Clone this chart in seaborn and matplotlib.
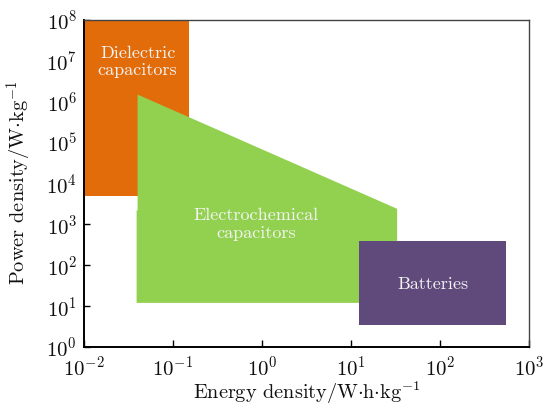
import matplotlib
matplotlib.use("Agg")
import matplotlib.pyplot as plt
import seaborn as sns
import pandas as pd

# Regions of the Ragone plot (energy density in W·h/kg, power density in W/kg)
dielectric_energy = [0.01, 0.15, 0.15, 0.01]
dielectric_power = [5e3, 5e3, 1e8, 1e8]

electrochem_energy = [0.039, 33, 33, 0.04, 0.04, 0.039]
electrochem_power = [12, 12, 2.4e3, 1.5e6, 2.2e3, 2.2e3]

battery_energy = [12.3, 550, 550, 12.3]
battery_power = [3.4, 3.4, 400, 400]

region_names = ["Dielectric\ncapacitors", "Electrochemical\ncapacitors", "Batteries"]
label_energy = [0.04, 0.85, 83]
label_power = [9.5e6, 1.0e3, 35]
region_colors = ["#E36C0A", "#92D050", "#604A7B"]

sns.set_theme(style="ticks")
plt.rcParams["font.family"] = ["cmr10", "DejaVu Serif"]
plt.rcParams["mathtext.fontset"] = "cm"
plt.rcParams["axes.formatter.use_mathtext"] = True
plt.rcParams["axes.unicode_minus"] = True

fig = plt.figure(figsize=(5.44, 4.03), dpi=100)
ax = fig.add_axes([84 / 544, 1 - 347 / 403, 445 / 544, 327 / 403])

regions = [
    (dielectric_energy, dielectric_power),
    (electrochem_energy, electrochem_power),
    (battery_energy, battery_power),
]
for (xs, ys), color in zip(regions, region_colors):
    ax.fill(xs, ys, color=color, lw=0, zorder=2)

labels = pd.DataFrame({"name": region_names, "energy": label_energy, "power": label_power})
for _, row in labels.iterrows():
    ax.text(row.energy, row.power, row["name"], ha="center", va="center",
            color="#F4F4F4", fontsize=13, linespacing=1.2, zorder=3)

ax.set_xscale("log")
ax.set_yscale("log")
ax.set_xlim(1e-2, 1e3)
ax.set_ylim(1e0, 1e8)
ax.set_xticks([1e-2, 1e-1, 1e0, 1e1, 1e2, 1e3])
ax.set_yticks([1e0, 1e1, 1e2, 1e3, 1e4, 1e5, 1e6, 1e7, 1e8])
ax.minorticks_off()
ax.tick_params(axis="both", direction="in", length=5, width=1.0, color="black",
               labelsize=15, labelcolor="#111111")
ax.tick_params(axis="x", pad=6)
ax.tick_params(axis="y", length=4, pad=5)

ax.set_xlabel(r"Energy density/W$\cdot$h$\cdot$kg$^{-1}$", fontsize=14.6, color="#111111")
ax.xaxis.set_label_coords(0.5, (347 - 379) / 327)
ax.set_ylabel(r"Power density/W$\cdot$kg$^{-1}$", fontsize=14.7, color="#111111")
ax.yaxis.set_label_coords((34 - 84) / 445, (347 - 183) / 327)

for side in ["left", "bottom"]:
    ax.spines[side].set_color("black")
    ax.spines[side].set_linewidth(1.4)
for side in ["top", "right"]:
    ax.spines[side].set_color("#444444")
    ax.spines[side].set_linewidth(1.0)

fig.savefig("out.png", dpi=100)
